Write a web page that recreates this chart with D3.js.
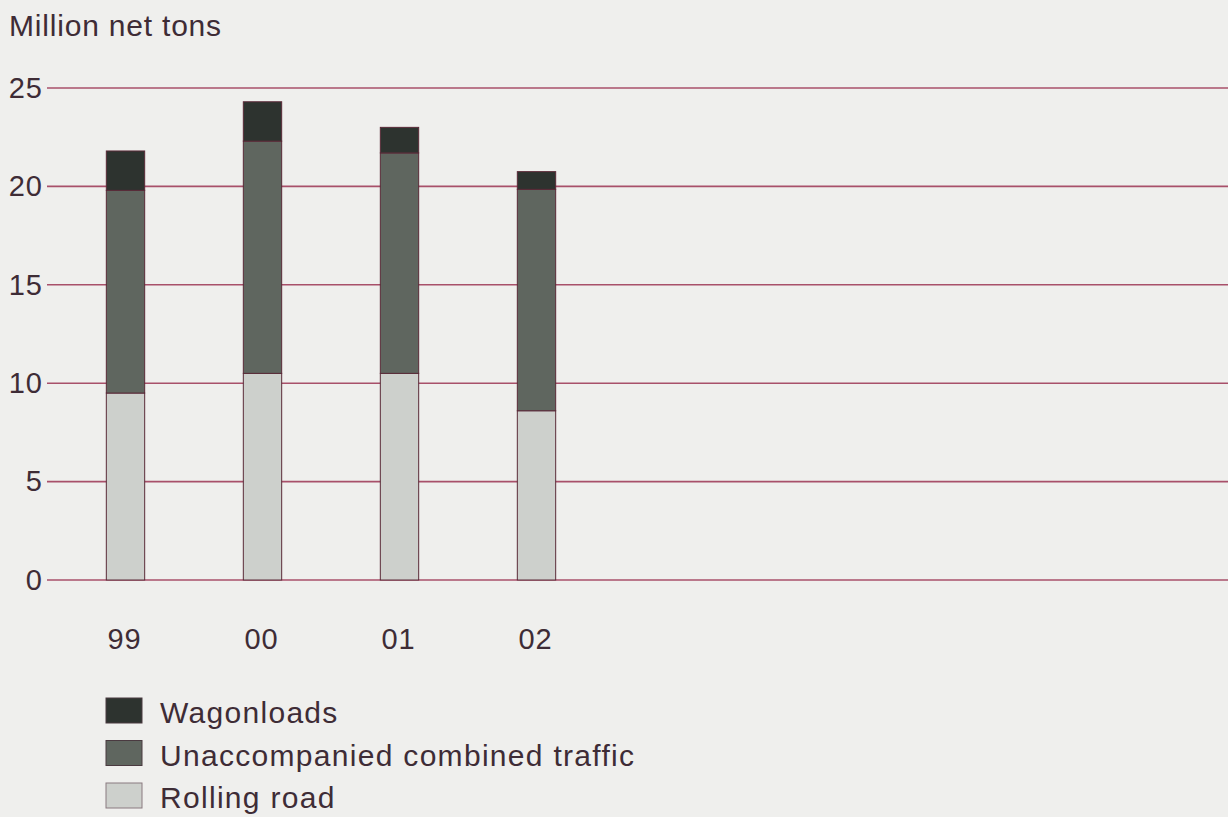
<!DOCTYPE html>
<html>
<head>
<meta charset="utf-8">
<script src="https://cdn.jsdelivr.net/npm/d3@7"></script>
<style>
  html, body { margin: 0; padding: 0; background: #efefed; }
  svg { display: block; }
  text { font-family: "Liberation Sans", Arial, sans-serif; }
</style>
</head>
<body>
<svg id="chart" width="1228" height="817"></svg>
<script>
const categories = ["99", "00", "01", "02"];
const seriesNames = ["Rolling road", "Unaccompanied combined traffic", "Wagonloads"];
const rollingRoad = [9.5, 10.5, 10.5, 8.6];
const unaccompanied = [10.3, 11.8, 11.2, 11.25];
const wagonloads = [2.0, 2.0, 1.3, 0.9];
const yTicks = [0, 5, 10, 15, 20, 25];
const legendOrder = ["Wagonloads", "Unaccompanied combined traffic", "Rolling road"];

const colors = {
  "Rolling road": "#cdd0cc",
  "Unaccompanied combined traffic": "#5f665f",
  "Wagonloads": "#2d332f"
};
const gridColor = "#a8506a";
const textColor = "#3e2c36";

const svg = d3.select("#chart");

const rows = categories.map((c, i) => ({
  cat: c,
  "Rolling road": rollingRoad[i],
  "Unaccompanied combined traffic": unaccompanied[i],
  "Wagonloads": wagonloads[i]
}));

const stack = d3.stack().keys(seriesNames);
const stacked = stack(rows);

const y = d3.scaleLinear().domain([0, 25]).range([580, 88]);
const x = d3.scaleBand().domain(categories).range([57, 605]).paddingInner(0.72).paddingOuter(0.36);

// title
svg.append("text")
  .attr("x", 9).attr("y", 36)
  .attr("font-size", 30)
  .attr("letter-spacing", 0.8)
  .attr("fill", textColor)
  .text("Million net tons");

// y tick labels
const yAxis = d3.axisLeft(y).tickValues(yTicks).tickSize(0).tickPadding(5);
const gy = svg.append("g").attr("transform", "translate(48,0)").call(yAxis);
gy.select(".domain").remove();
gy.selectAll("text").attr("font-size", 29).attr("fill", textColor)
  .attr("letter-spacing", 1)
  .attr("font-family", "Liberation Sans, Arial, sans-serif");

// grid lines
svg.append("g").selectAll("line").data(yTicks).join("line")
  .attr("x1", 47).attr("x2", 1228)
  .attr("y1", d => y(d)).attr("y2", d => y(d))
  .attr("stroke", gridColor).attr("stroke-width", 1.6);

// bars
svg.append("g").selectAll("g").data(stacked).join("g")
  .attr("fill", d => colors[d.key])
  .selectAll("rect").data(d => d).join("rect")
  .attr("x", d => x(d.data.cat))
  .attr("width", x.bandwidth())
  .attr("y", d => y(d[1]))
  .attr("height", d => y(d[0]) - y(d[1]))
  .attr("stroke", "#5a2a38").attr("stroke-width", 1);

// x labels
const xAxis = d3.axisBottom(x).tickSize(0).tickPadding(0);
const gx = svg.append("g").attr("transform", "translate(-1,628)").call(xAxis);
gx.select(".domain").remove();
gx.selectAll("text").attr("font-size", 29).attr("fill", textColor)
  .attr("letter-spacing", 1)
  .attr("font-family", "Liberation Sans, Arial, sans-serif");

// legend
const lg = svg.append("g").attr("transform", "translate(106,698)");
const items = lg.selectAll("g").data(legendOrder).join("g")
  .attr("transform", (d, i) => `translate(0,${i * 42.5})`);
items.append("rect")
  .attr("width", 36).attr("height", 25)
  .attr("fill", d => colors[d])
  .attr("stroke", d => d === "Rolling road" ? "#8a7a80" : "#4a3a40")
  .attr("stroke-width", 1);
items.append("text")
  .attr("x", 54).attr("y", 25)
  .attr("font-size", 30)
  .attr("letter-spacing", 1.3)
  .attr("fill", textColor)
  .text(d => d);
</script>
</body>
</html>
